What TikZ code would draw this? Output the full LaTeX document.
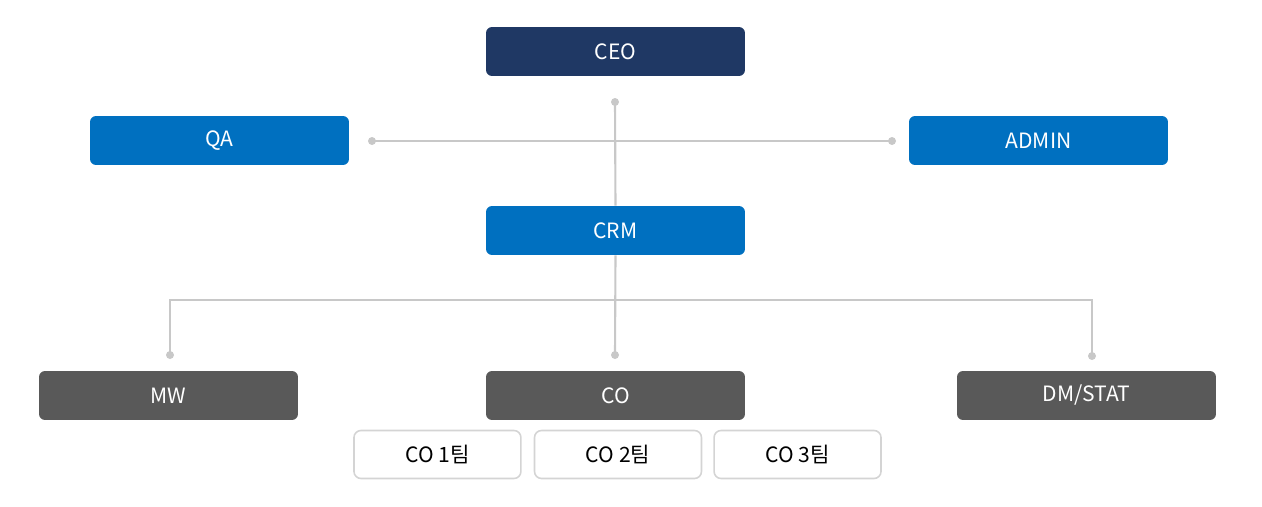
\documentclass[tikz,border=0pt]{standalone}
\usepackage{fontspec}
\setmainfont{Noto Sans CJK KR}
\usepackage{tikz}
\usetikzlibrary{positioning}
\definecolor{navybox}{HTML}{1F3864}
\definecolor{bluebox}{HTML}{0070C0}
\definecolor{graybox}{HTML}{595959}
\definecolor{linkgray}{HTML}{C8C8C8}
\definecolor{teamedge}{HTML}{D4D4D4}
\tikzstyle{chief} = [rectangle, rounded corners=0.12cm, fill=navybox, text=white,
    minimum width=5.18cm, minimum height=0.98cm, font=\fontsize{12}{14}\selectfont]
\tikzstyle{staff} = [rectangle, rounded corners=0.12cm, fill=bluebox, text=white,
    minimum width=5.18cm, minimum height=0.98cm, font=\fontsize{12}{14}\selectfont]
\tikzstyle{division} = [rectangle, rounded corners=0.12cm, fill=graybox, text=white,
    minimum width=5.18cm, minimum height=0.98cm, font=\fontsize{12}{14}\selectfont]
\tikzstyle{team} = [rectangle, rounded corners=0.14cm, draw=teamedge, line width=0.9pt,
    fill=white, text=black, minimum width=3.34cm, minimum height=0.96cm,
    font=\fontsize{12}{14}\selectfont]
\tikzstyle{link} = [draw=linkgray, line width=1.2pt]
\tikzstyle{knob} = [circle, fill=linkgray, inner sep=0pt, minimum size=0.16cm]

\begin{document}
\begin{tikzpicture}[x=0.02cm, y=-0.02cm]
    \useasboundingbox (0,0) rectangle (1262,507);
    % Nodes
    \node [chief] (ceo) at (615.5,51.5) {CEO};
    \node [staff] (qa) at (219.5,140.5) {QA};
    \node [staff] (admin) at (1038.5,140.5) {ADMIN};
    \node [staff] (crm) at (615.5,230.5) {CRM};
    \node [division] (mw) at (168.5,395.5) {MW};
    \node [division] (co) at (615.5,395.5) {CO};
    \node [division] (dm) at (1086.5,395.5) {DM/STAT};
    \node [team] (team2) at (618,454.5) {CO 2팀};
    \node [team, left=0.24cm of team2] (team1) {CO 1팀};
    \node [team, right=0.22cm of team2] (team3) {CO 3팀};
    % Joints
    \node [knob] (ceodot) at (615,102) {};
    \node [knob] (qadot) at (372,141) {};
    \node [knob] (admindot) at (892,141) {};
    \node [knob] (mwdot) at (170,355) {};
    \node [knob] (codot) at (615,355) {};
    \node [knob] (dmdot) at (1092,356) {};
    \coordinate (branch) at (615,300);
    % Edges
    \path [link] (ceodot.center) -- (crm.north);
    \path [link] (qadot.center) -- (admindot.center);
    \path [link] (crm.south) -- (codot.center);
    \path [link] (mwdot.center) |- (branch) -| (dmdot.center);
\end{tikzpicture}
\end{document}
